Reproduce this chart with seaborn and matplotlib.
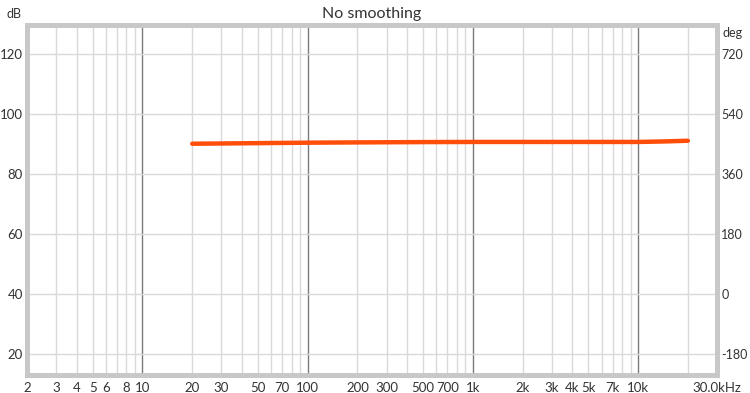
import matplotlib
matplotlib.use("Agg")
import matplotlib.pyplot as plt
import matplotlib.ticker as mticker
import seaborn as sns
import pandas as pd

# data
freq_hz = [20, 50, 100, 200, 500, 1000, 2000, 5000, 10000, 14000, 20000]
level_db = [90.0, 90.2, 90.35, 90.45, 90.55, 90.6, 90.6, 90.6, 90.6, 90.75, 91.0]

x_ticks = [2, 3, 4, 5, 6, 8, 10, 20, 30, 50, 70, 100, 200, 300, 500, 700,
           1000, 2000, 3000, 4000, 5000, 7000, 10000, 30000]
x_labels = ["2", "3", "4", "5", "6", "8", "10", "20", "30", "50", "70", "100",
            "200", "300", "500", "700", "1k", "2k", "3k", "4k", "5k", "7k",
            "10k", "30.0kHz"]
db_ticks = [20, 40, 60, 80, 100, 120]
deg_ticks = [-180, 0, 180, 360, 540, 720]

df = pd.DataFrame({"freq": freq_hz, "db": level_db})

sns.set_style("white")
plt.rcParams["font.family"] = ["Lato", "DejaVu Sans"]
plt.rcParams["axes.unicode_minus"] = False

fig = plt.figure(figsize=(7.5, 3.93), dpi=100)
ax = fig.add_axes([0.036, 0.046, 0.920, 0.890])

ax.set_xscale("log")
ax.set_xlim(2, 30000)
ax.set_ylim(13, 129.5)

# grid: minor lines at every integer multiple, darker decade lines
minor = [m * 10 ** d for d in range(0, 5) for m in range(2, 10) if 2 <= m * 10 ** d <= 30000]
for f in minor:
    ax.axvline(f, color="#d9d9d9", lw=1.0, zorder=1)
for f in [10, 100, 1000, 10000]:
    ax.axvline(f, color="#7a7a7a", lw=1.0, zorder=1)
for y in db_ticks:
    ax.axhline(y, color="#d9d9d9", lw=1.0, zorder=1)

sns.lineplot(data=df, x="freq", y="db", ax=ax, color="#ff4e0a", lw=3.2,
             zorder=3, solid_capstyle="round")

ax.xaxis.set_major_locator(mticker.FixedLocator(x_ticks))
ax.xaxis.set_major_formatter(mticker.FixedFormatter(x_labels))
ax.xaxis.set_minor_locator(mticker.NullLocator())
ax.set_yticks(db_ticks)
ax.tick_params(axis="both", length=0, labelsize=9.5, colors="#333333", pad=3)
ax.tick_params(axis="x", pad=5)
ax.set_xlabel("")
ax.set_ylabel("")

ax2 = ax.twinx()
ax2.set_ylim((13 - 40) * 9, (129.5 - 40) * 9)
ax2.set_yticks(deg_ticks)
ax2.tick_params(axis="y", length=0, labelsize=9, colors="#333333", pad=3)

for a in (ax, ax2):
    for s in a.spines.values():
        s.set_color("#c8c8c8")
        s.set_linewidth(3.5)

ax.set_title("No smoothing", fontsize=11.5, color="#333333", pad=5)
fig.text(0.019, 0.955, "dB", ha="center", fontsize=9, color="#333333")
fig.text(0.977, 0.905, "deg", ha="center", fontsize=9, color="#333333")

fig.savefig("out.png", dpi=100)
